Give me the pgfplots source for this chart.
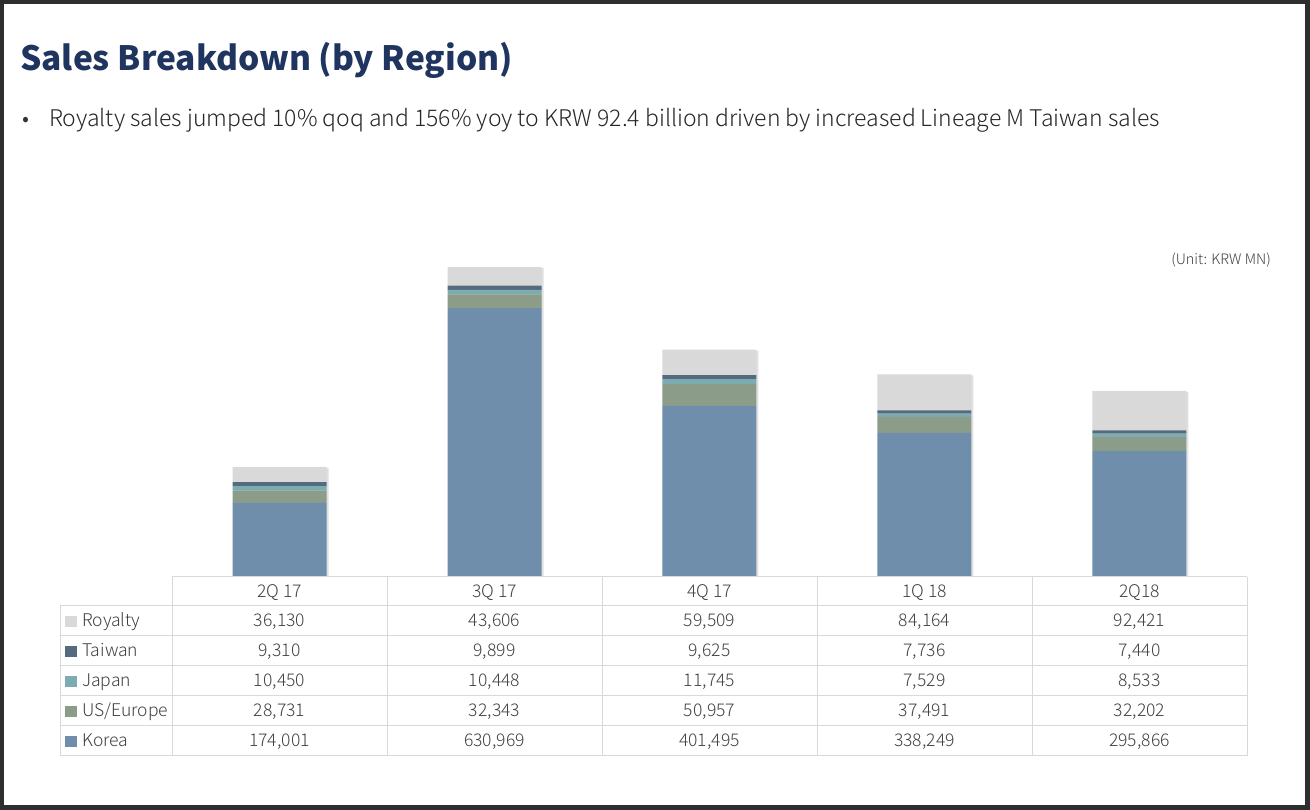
\documentclass[border=0pt]{standalone}
\usepackage{pgfplots}
\pgfplotsset{compat=1.18}
\usepackage{pgfplotstable}
\usepackage{fontspec}
\setmainfont{Noto Sans CJK KR}
\newfontfamily\lightfont{Noto Sans CJK KR Light}
\definecolor{framec}{RGB}{46,46,46}
\definecolor{titlec}{RGB}{31,53,96}
\definecolor{korea}{RGB}{111,142,171}
\definecolor{useu}{RGB}{139,156,137}
\definecolor{japan}{RGB}{124,172,178}
\definecolor{taiwan}{RGB}{86,106,126}
\definecolor{royalty}{RGB}{217,217,217}
\definecolor{gridc}{RGB}{217,217,217}
\definecolor{txt}{RGB}{64,64,64}
\pgfplotstableread{
x korea us japan taiwan royalty
0 174001 28731 10450 9310 36130
1 630969 32343 10448 9899 43606
2 401495 50957 11745 9625 59509
3 338249 37491 7529 7736 84164
4 295866 32202 8533 7440 92421
}\sales
\newcommand{\Y}[1]{\fpeval{810-#1}}
\pgfplotsset{barax/.style={anchor=south west, scale only axis,
  width=1075pt, height=341pt, xmin=-0.5, xmax=4.5, ymin=0, ymax=800000,
  hide axis, ybar stacked, bar width=94pt, clip=false}}
\begin{document}
\begin{tikzpicture}[x=1pt,y=1pt]
\fill[framec] (0,0) rectangle (1310,810);
\fill[white] (4,5) rectangle (1305,806);
\node[anchor=base west,inner sep=0,text=titlec,font=\fontsize{33.5}{40}\selectfont\bfseries] at (20,\Y{71}) {Sales Breakdown (by Region)};
\node[anchor=base west,inner sep=0,text=black!80,font=\fontsize{22}{26}\lightfont] at (22,\Y{127}) {•};
\node[anchor=base west,inner sep=0,text=black!85,font=\fontsize{22.95}{26}\lightfont] at (49,\Y{127}) {Royalty sales jumped 10\% qoq and 156\% yoy to KRW 92.4 billion driven by increased Lineage M Taiwan sales};
\node[anchor=base east,inner sep=0,text=txt,font=\fontsize{14.4}{16}\lightfont] at (1271,\Y{265}) {(Unit: KRW MN)};
% soft shadow of the bars
\begin{axis}[barax, at={(174pt,232pt)}]
\addplot[fill=black!12,draw=none] table[x=x,y=korea]{\sales};
\addplot[fill=black!12,draw=none] table[x=x,y=us]{\sales};
\addplot[fill=black!12,draw=none] table[x=x,y=japan]{\sales};
\addplot[fill=black!12,draw=none] table[x=x,y=taiwan]{\sales};
\addplot[fill=black!12,draw=none] table[x=x,y=royalty]{\sales};
\end{axis}
\begin{axis}[barax, at={(172pt,233pt)}]
\addplot[fill=korea,draw=none] table[x=x,y=korea]{\sales};
\addplot[fill=useu,draw=none] table[x=x,y=us]{\sales};
\addplot[fill=japan,draw=none] table[x=x,y=japan]{\sales};
\addplot[fill=taiwan,draw=none] table[x=x,y=taiwan]{\sales};
\addplot[fill=royalty,draw=none] table[x=x,y=royalty]{\sales};
\end{axis}
\fill[white] (172.5,\Y{577.5}) rectangle (1246.5,\Y{605.5});
% table grid
\begin{scope}[draw=gridc,line width=1pt]
\draw (172,\Y{577}) -- (1247,\Y{577});
\foreach \r in {606,636,666,696,726,756} \draw (60,\Y{\r}) -- (1247,\Y{\r});
\draw (60,\Y{606}) -- (60,\Y{756});
\foreach \c in {172,387,602,817,1032,1247} \draw (\c,\Y{577}) -- (\c,\Y{756});
\end{scope}
\begin{scope}[every node/.style={anchor=base,inner sep=0,text=txt,font=\fontsize{17.5}{20}\lightfont}]
\node at (279.5,\Y{598}) {2Q 17};
\node at (494.5,\Y{598}) {3Q 17};
\node at (709.5,\Y{598}) {4Q 17};
\node at (924.5,\Y{598}) {1Q 18};
\node at (1139.5,\Y{598}) {2Q18};
% Royalty
\node at (279.5,\Y{627}) {36,130};
\node at (494.5,\Y{627}) {43,606};
\node at (709.5,\Y{627}) {59,509};
\node at (924.5,\Y{627}) {84,164};
\node at (1139.5,\Y{627}) {92,421};
% Taiwan
\node at (279.5,\Y{657}) {9,310};
\node at (494.5,\Y{657}) {9,899};
\node at (709.5,\Y{657}) {9,625};
\node at (924.5,\Y{657}) {7,736};
\node at (1139.5,\Y{657}) {7,440};
% Japan
\node at (279.5,\Y{687}) {10,450};
\node at (494.5,\Y{687}) {10,448};
\node at (709.5,\Y{687}) {11,745};
\node at (924.5,\Y{687}) {7,529};
\node at (1139.5,\Y{687}) {8,533};
% US/Europe
\node at (279.5,\Y{717}) {28,731};
\node at (494.5,\Y{717}) {32,343};
\node at (709.5,\Y{717}) {50,957};
\node at (924.5,\Y{717}) {37,491};
\node at (1139.5,\Y{717}) {32,202};
% Korea
\node at (279.5,\Y{747}) {174,001};
\node at (494.5,\Y{747}) {630,969};
\node at (709.5,\Y{747}) {401,495};
\node at (924.5,\Y{747}) {338,249};
\node at (1139.5,\Y{747}) {295,866};
% labels
\node[anchor=base west] at (82,\Y{627}) {Royalty};
\node[anchor=base west] at (82,\Y{657}) {Taiwan};
\node[anchor=base west] at (82,\Y{687}) {Japan};
\node[anchor=base west] at (82,\Y{717}) {US/Europe};
\node[anchor=base west] at (82,\Y{747}) {Korea};
\end{scope}
\fill[royalty] (65,\Y{627}) rectangle (77,\Y{616});
\fill[taiwan] (65,\Y{657}) rectangle (77,\Y{646});
\fill[japan] (65,\Y{687}) rectangle (77,\Y{676});
\fill[useu] (65,\Y{717}) rectangle (77,\Y{706});
\fill[korea] (65,\Y{747}) rectangle (77,\Y{736});
\end{tikzpicture}
\end{document}
